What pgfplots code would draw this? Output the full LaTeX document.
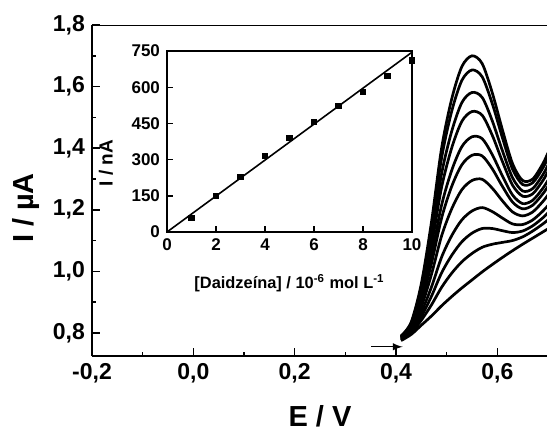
\documentclass[border=0pt]{standalone}
\usepackage{fontspec}
\setmainfont{Liberation Sans}
\usepackage{pgfplots}
\pgfplotsset{compat=1.18}
\usepackage{pgfplotstable}

% DPV curves, blank (c0) and ten additions (c1..c10)
\pgfplotstableread{
x    c0    c1    c2    c3    c4    c5    c6    c7    c8    c9    c10
0.41 0.775 0.777 0.778 0.780 0.782 0.783 0.785 0.786 0.788 0.789 0.790
0.43 0.795 0.800 0.803 0.807 0.813 0.817 0.821 0.825 0.828 0.832 0.835
0.45 0.825 0.841 0.853 0.867 0.885 0.900 0.911 0.927 0.938 0.951 0.960
0.47 0.855 0.891 0.919 0.949 0.990 1.025 1.050 1.084 1.110 1.141 1.160
0.49 0.888 0.948 0.995 1.046 1.115 1.173 1.215 1.273 1.317 1.368 1.400
0.51 0.918 0.994 1.052 1.116 1.203 1.276 1.328 1.401 1.455 1.520 1.560
0.53 0.946 1.031 1.096 1.167 1.265 1.346 1.405 1.487 1.548 1.620 1.665
0.55 0.972 1.058 1.124 1.196 1.295 1.377 1.437 1.519 1.581 1.654 1.700
0.57 0.998 1.078 1.139 1.207 1.299 1.375 1.431 1.507 1.565 1.632 1.675
0.59 1.022 1.088 1.139 1.194 1.270 1.333 1.379 1.442 1.489 1.545 1.580
0.61 1.045 1.094 1.132 1.173 1.229 1.276 1.310 1.357 1.392 1.434 1.460
0.63 1.067 1.100 1.126 1.154 1.193 1.225 1.248 1.280 1.304 1.332 1.350
0.65 1.088 1.112 1.131 1.152 1.180 1.203 1.220 1.244 1.261 1.282 1.295
0.67 1.108 1.131 1.148 1.167 1.193 1.215 1.231 1.252 1.269 1.288 1.300
0.69 1.128 1.154 1.174 1.196 1.227 1.252 1.270 1.295 1.314 1.336 1.350
0.70 1.138 1.167 1.190 1.214 1.248 1.276 1.296 1.324 1.345 1.369 1.385
}\dpv

% calibration (inset)
\pgfplotstableread{
c  i
1  58
2  151
3  230
4  316
5  391
6  455
7  521
8  581
9  647
10 711
}\calib

\begin{document}
\begin{tikzpicture}[font=\bfseries]
\useasboundingbox (-46pt,-40pt) rectangle (227.5pt,178pt);
\begin{axis}[name=main, at={(0,0)}, anchor=south west,
 scale only axis, width=228pt, height=165.5pt,
 xmin=-0.2, xmax=0.7, ymin=0.725, ymax=1.8,
 axis x line*=bottom, axis y line*=left, axis line style={-, line width=0.9pt},
 xtick={-0.2,0,0.2,0.4,0.6}, ytick={0.8,1.0,1.2,1.4,1.6,1.8}, minor tick num=1,
 tick align=inside, major tick length=4pt, minor tick length=2.2pt,
 every tick/.style={black, line width=0.8pt},
 /pgf/number format/fixed, /pgf/number format/fixed zerofill,
 /pgf/number format/precision=1, /pgf/number format/use comma,
 /pgf/number format/assume math mode=true,
 tick label style={font=\bfseries\fontsize{11.5}{13}\selectfont},
 label style={font=\bfseries\fontsize{14.5}{16}\selectfont},
 xlabel={E / V}, ylabel={I / µA}, xlabel shift=4.5pt,
 ylabel style={at={(ticklabel cs:0.447)}}]
\pgfplotsinvokeforeach{0,...,10}{
 \addplot[black, line width=1.35pt, smooth] table[x=x, y=c#1] {\dpv};
}
\draw[line width=0.9pt] (rel axis cs:0,1) -- (rel axis cs:1,1);
\draw[-latex, line width=0.7pt] (axis cs:0.351,0.755) -- (axis cs:0.413,0.755);
\end{axis}

\begin{axis}[at={(37.5pt,62pt)}, anchor=south west,
 scale only axis, width=122.5pt, height=90.5pt,
 xmin=0, xmax=10, ymin=0, ymax=750,
 xtick={0,2,4,6,8,10}, ytick={0,150,300,450,600,750},
 tick align=inside, tick pos=left, major tick length=3pt,
 every tick/.style={black, line width=0.7pt},
 axis line style={line width=0.8pt},
 /pgf/number format/assume math mode=true,
 tick label style={font=\bfseries\fontsize{8.5}{10}\selectfont},
 xlabel style={font=\bfseries\fontsize{8.2}{10}\selectfont},
 ylabel style={font=\bfseries\fontsize{9.5}{11}\selectfont,
   at={(rel axis cs:-0.192,0.38)}, anchor=south},
 xlabel={[Daidzeína] / 10\textsuperscript{-6} mol L\textsuperscript{-1}},
 ylabel={I / nA}, xlabel shift=5pt]
\addplot[black, line width=0.8pt] coordinates {(0,0) (10,745)};
\addplot[black, only marks, mark=square*, mark size=1.3pt] table[x=c, y=i] {\calib};
\end{axis}
\end{tikzpicture}
\end{document}
